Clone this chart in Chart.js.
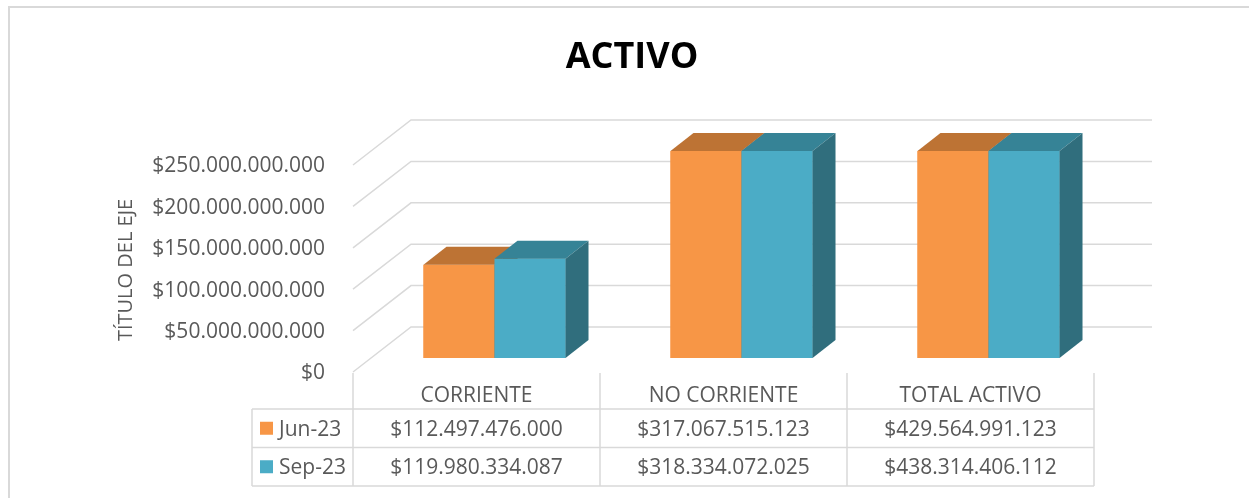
<!DOCTYPE html>
<html lang="es">
<head>
<meta charset="utf-8">
<title>ACTIVO</title>
<script src="https://cdn.jsdelivr.net/npm/chart.js@4.4.1/dist/chart.umd.min.js"></script>
<style>
  html, body { margin: 0; padding: 0; background: #fff; }
  canvas { display: block; }
</style>
</head>
<body>
<canvas id="activoChart" width="1249" height="498"></canvas>
<script>
const categories = ['CORRIENTE', 'NO CORRIENTE', 'TOTAL ACTIVO'];
const seriesNames = ['Jun-23', 'Sep-23'];
const jun23 = [112497476000, 317067515123, 429564991123];
const sep23 = [119980334087, 318334072025, 438314406112];
const yTicks = [0, 50000000000, 100000000000, 150000000000, 200000000000, 250000000000];
const chartTitle = 'ACTIVO';
const axisTitle = 'TÍTULO DEL EJE';

const frontColors = ['#F79646', '#4BACC6'];
const topColors = ['#BD7334', '#368396'];
const sideColors = ['#A6622A', '#306E7D'];

const FONT = '"Open Sans", "DejaVu Sans", sans-serif';
const TEXT = '#595959';
const LINE = '#d9d9d9';

// fake 3D offsets, measured from the bar plane
const depth = { dx: 23, dy: -18 };
const toFront = { dx: -18, dy: 14 };
const toBack = { dx: 40, dy: -31 };

const money = v => '$' + Math.round(v).toString().replace(/\B(?=(\d{3})+(?!\d))/g, '.');

// draws text centred on its cap height
function capText(ctx, text, x, yMid, size, align, weight) {
    ctx.font = `${weight || 'normal'} ${size}px ${FONT}`;
    ctx.textAlign = align;
    ctx.textBaseline = 'alphabetic';
    ctx.fillText(text, x, yMid + size * 0.357);
}

function quad(ctx, pts) {
    ctx.beginPath();
    ctx.moveTo(pts[0][0], pts[0][1]);
    pts.slice(1).forEach(p => ctx.lineTo(p[0], p[1]));
    ctx.closePath();
    ctx.fill();
}

const frame = {
    id: 'frame',
    beforeDatasetsDraw(chart) {
        const { ctx, chartArea: a, scales: { x, y } } = chart;
        ctx.save();

        ctx.strokeStyle = LINE;
        ctx.lineWidth = 2;
        ctx.strokeRect(9, 7, 1400, 700);

        ctx.fillStyle = '#000';
        capText(ctx, chartTitle, 632, 55, 36, 'center', 'bold');

        // side wall + back wall grid
        ctx.lineWidth = 1.5;
        const wallX = a.left + toFront.dx;
        const backL = a.left + toBack.dx;
        const backR = a.right + toBack.dx;
        yTicks.forEach(v => {
            const py = y.getPixelForValue(v);
            ctx.beginPath();
            ctx.moveTo(wallX, py + toFront.dy);
            ctx.lineTo(backL, py + toBack.dy);
            ctx.lineTo(backR, py + toBack.dy);
            ctx.stroke();
            ctx.fillStyle = TEXT;
            capText(ctx, money(v), 325, py + toFront.dy, 21, 'right');
        });

        ctx.save();
        ctx.translate(125, 270);
        ctx.rotate(-Math.PI / 2);
        capText(ctx, axisTitle, 0, 0, 20, 'center');
        ctx.restore();

        // data table under the plot
        const colW = x.width / categories.length;
        const edges = categories.map((_, i) => x.getPixelForValue(i) - colW / 2 + toFront.dx);
        edges.push(edges[edges.length - 1] + colW);
        const top = a.bottom + toFront.dy + 1;
        const rows = [409, 447.5, 486];
        const legendLeft = 252;

        ctx.beginPath();
        edges.forEach(ex => { ctx.moveTo(ex, top); ctx.lineTo(ex, rows[2]); });
        ctx.moveTo(legendLeft, rows[0]);
        ctx.lineTo(legendLeft, rows[2]);
        rows.forEach(ry => { ctx.moveTo(legendLeft, ry); ctx.lineTo(edges[edges.length - 1], ry); });
        ctx.stroke();

        const series = chart.data.datasets;
        categories.forEach((c, i) => {
            const cx = x.getPixelForValue(i) + toFront.dx;
            ctx.fillStyle = TEXT;
            capText(ctx, c, cx, 395, 21, 'center');
            series.forEach((s, j) => {
                capText(ctx, money(s.data[i]), cx, (rows[j] + rows[j + 1]) / 2, 21, 'center');
            });
        });
        series.forEach((s, j) => {
            const cy = (rows[j] + rows[j + 1]) / 2;
            ctx.fillStyle = frontColors[j];
            ctx.fillRect(260, cy - 6.5, 13, 13);
            ctx.fillStyle = TEXT;
            capText(ctx, s.label, 279, cy, 21, 'left');
        });

        ctx.restore();
    },
};

const bars3d = {
    id: 'bars3d',
    afterDatasetsDraw(chart) {
        const { ctx, chartArea: a } = chart;
        const metas = chart.data.datasets.map((_, i) => chart.getDatasetMeta(i));
        ctx.save();
        categories.forEach((_, i) => {
            metas.forEach((meta, j) => {
                const { x, y, base, width } = meta.data[i].getProps(['x', 'y', 'base', 'width'], true);
                const l = x - width / 2;
                const r = x + width / 2;
                const t = Math.max(y, a.top);
                ctx.fillStyle = frontColors[j];
                ctx.fillRect(l, t, width, base - t);
                ctx.fillStyle = topColors[j];
                quad(ctx, [[l, t], [r, t], [r + depth.dx, t + depth.dy], [l + depth.dx, t + depth.dy]]);
                ctx.fillStyle = sideColors[j];
                quad(ctx, [[r, t], [r + depth.dx, t + depth.dy], [r + depth.dx, base + depth.dy], [r, base]]);
            });
        });
        ctx.restore();
    },
};

new Chart(document.getElementById('activoChart'), {
    type: 'bar',
    data: {
        labels: categories,
        datasets: [
            { label: seriesNames[0], data: jun23, backgroundColor: frontColors[0] },
            { label: seriesNames[1], data: sep23, backgroundColor: frontColors[1] },
        ],
    },
    options: {
        responsive: false,
        animation: false,
        devicePixelRatio: 1,
        layout: { padding: { left: 371, right: 137, top: 151, bottom: 140 } },
        datasets: { bar: { categoryPercentage: 0.575, barPercentage: 1, borderWidth: 0 } },
        scales: {
            x: { display: false },
            y: { display: false, min: 0, max: 250000000000, ticks: { stepSize: 50000000000 } },
        },
        plugins: {
            legend: { display: false },
            title: { display: false },
            tooltip: { enabled: false },
        },
    },
    plugins: [frame, bars3d],
});
</script>
</body>
</html>
